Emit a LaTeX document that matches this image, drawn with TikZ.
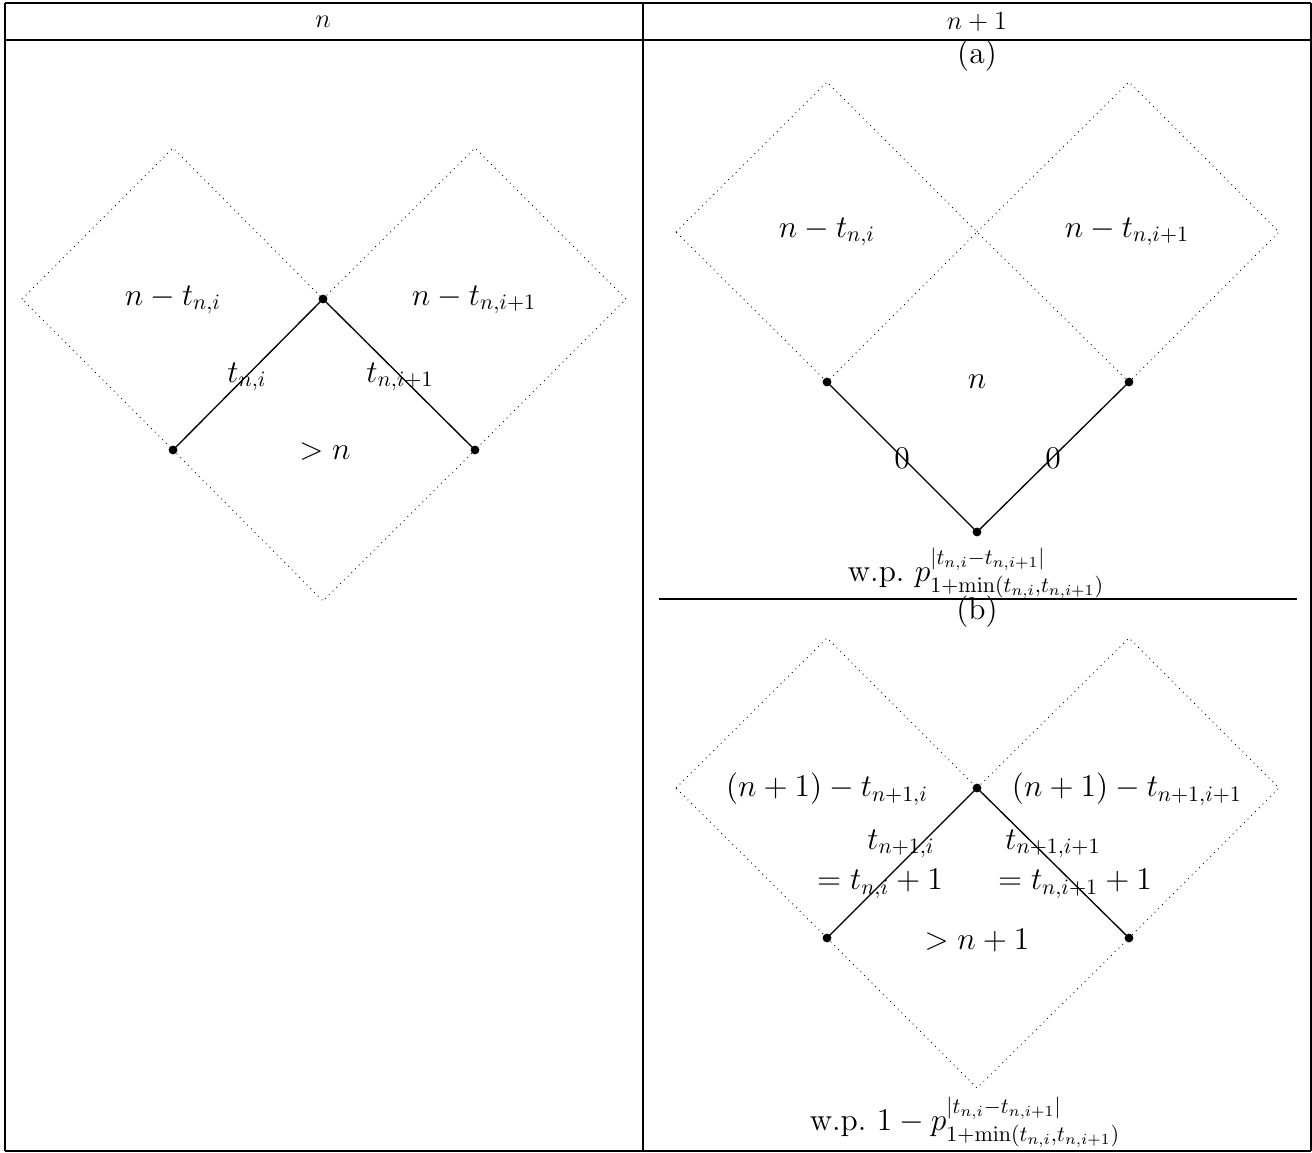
\documentclass[tikz,border=0pt]{standalone}
\usepackage{amsmath}
\begin{document}
\begin{tikzpicture}[x=0.016cm,y=-0.016cm,
  rule/.style={line width=0.6pt},
  cone/.style={dotted, line width=0.4pt},
  edge/.style={line width=0.6pt},
  vtx/.style={circle,fill=black,inner sep=0pt,minimum size=4pt},
  lab/.style={inner sep=0pt,font=\Large},
  hdr/.style={inner sep=0pt,font=\large},
  captext/.style={inner sep=0pt,font=\Large}]
\useasboundingbox (0,0) rectangle (1312,1152);
% table rules
\draw[rule] (5,3) -- (1311,3);
\draw[rule] (5,40) -- (1311,40);
\draw[rule] (5,1151) -- (1311,1151);
\draw[rule] (5,3) -- (5,1151);
\draw[rule] (643,3) -- (643,1151);
\draw[rule] (1311,3) -- (1311,1151);
\draw[rule] (659,599) -- (1297,599);
% headers
\node[hdr] (hn) at (323,22) {$n$};
\node[hdr] (hn1) at (977,22) {$n+1$};
\node[captext] (ha) at (977,56) {(a)};
\node[captext] (hb) at (977,612) {(b)};

% ---------- left panel ----------
\coordinate (LA) at (323,299);
\coordinate (LB) at (173,450);
\coordinate (LC) at (475,450);
\draw[cone] (22,299) -- (173,148) -- (LA) -- (LB) -- cycle;
\draw[cone] (LA) -- (475,148) -- (626,299) -- (LC) -- cycle;
\draw[cone] (LB) -- (323,601) -- (LC);
\draw[edge] (LB) -- (LA) -- (LC);
\node[vtx] (la) at (LA) {};
\node[vtx] (lb) at (LB) {};
\node[vtx] (lc) at (LC) {};
\node[lab] (l1) at (173,300) {$n-t_{n,i}$};
\node[lab] (l2) at (474,300) {$n-t_{n,i+1}$};
\node[lab] (l3) at (247,377) {$t_{n,i}$};
\node[lab] (l4) at (400,377) {$t_{n,i+1}$};
\node[lab] (l5) at (325,452) {$>n$};

% ---------- panel (a) ----------
\coordinate (AA) at (977,232);
\coordinate (AB) at (827,382);
\coordinate (AC) at (1129,382);
\coordinate (AD) at (977,532);
\draw[cone] (676,232) -- (827,82) -- (AA) -- (AB) -- cycle;
\draw[cone] (AA) -- (1129,82) -- (1279,232) -- (AC) -- cycle;
\draw[edge] (AB) -- (AD) -- (AC);
\node[vtx] (ab) at (AB) {};
\node[vtx] (ac) at (AC) {};
\node[vtx] (ad) at (AD) {};
\node[lab] (a1) at (827,232) {$n-t_{n,i}$};
\node[lab] (a2) at (1127,232) {$n-t_{n,i+1}$};
\node[lab] (a3) at (977,382) {$n$};
\node[lab] (a4) at (902,458) {$0$};
\node[lab] (a5) at (1053,458) {$0$};
\node[captext] (a6) at (976,573) {w.p.\ $p^{|t_{n,i}-t_{n,i+1}|}_{1+\min(t_{n,i},t_{n,i+1})}$};

% ---------- panel (b) ----------
\coordinate (BA) at (977,788);
\coordinate (BB) at (827,938);
\coordinate (BC) at (1129,938);
\draw[cone] (676,788) -- (827,638) -- (BA) -- (BB) -- cycle;
\draw[cone] (BA) -- (1129,638) -- (1279,788) -- (BC) -- cycle;
\draw[cone] (BB) -- (977,1088) -- (BC);
\draw[edge] (BB) -- (BA) -- (BC);
\node[vtx] (ba) at (BA) {};
\node[vtx] (bb) at (BB) {};
\node[vtx] (bc) at (BC) {};
\node[lab] (b1) at (827,789) {$(n+1)-t_{n+1,i}$};
\node[lab] (b2) at (1127,789) {$(n+1)-t_{n+1,i+1}$};
\node[lab] (b3) at (901,844) {$t_{n+1,i}$};
\node[lab] (b4) at (880,884) {$=t_{n,i}+1$};
\node[lab] (b5) at (1053,844) {$t_{n+1,i+1}$};
\node[lab] (b6) at (1075,884) {$=t_{n,i+1}+1$};
\node[lab] (b7) at (977,940) {$>n+1$};
\node[captext] (b8) at (965,1122) {w.p.\ $1-p^{|t_{n,i}-t_{n,i+1}|}_{1+\min(t_{n,i},t_{n,i+1})}$};
\end{tikzpicture}
\end{document}
